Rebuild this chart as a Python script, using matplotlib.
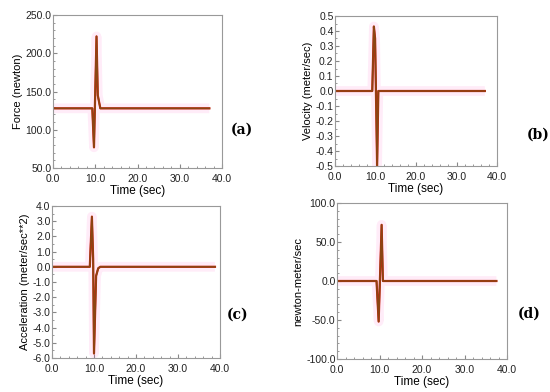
import matplotlib.pyplot as plt
import numpy as np
from matplotlib.ticker import MultipleLocator, FormatStrFormatter

plt.rcParams['font.family'] = ['Liberation Sans', 'DejaVu Sans']

# (a) force
t_a = [0.0, 9.3, 9.7, 10.0, 10.3, 10.6, 11.2, 37.0]
f_a = [128, 128, 77, 150, 222, 145, 128, 128]
# (b) velocity
t_b = [0.0, 9.2, 9.6, 9.9, 10.4, 10.7, 37.0]
v_b = [0.0, 0.0, 0.43, 0.35, -0.5, 0.0, 0.0]
# (c) acceleration
t_c = [0.0, 9.0, 9.5, 9.8, 10.0, 10.5, 11.0, 11.5, 38.8]
a_c = [0.0, 0.0, 3.3, 0.5, -5.7, -0.6, -0.1, 0.0, 0.0]
# (d) power
t_d = [0.0, 9.3, 9.8, 10.5, 10.8, 37.5]
p_d = [0.0, 0.0, -52, 72, 0.0, 0.0]

panels = [
    (t_a, f_a, "Force (newton)", (50, 250), 50, 10, "(a)"),
    (t_b, v_b, "Velocity (meter/sec)", (-0.5, 0.5), 0.1, 0.05, "(b)"),
    (t_c, a_c, "Acceleration (meter/sec**2)", (-6, 4), 1, 0.5, "(c)"),
    (t_d, p_d, "newton-meter/sec", (-100, 100), 50, 10, "(d)"),
]
# axes boxes in pixels: left, top, right, bottom
boxes = [(53, 15, 222, 168), (335, 16, 497, 166), (52, 206, 220, 358), (337, 203, 507, 359)]
lbl_pos = [(242, 130), (538, 135), (238, 315), (529, 314)]

W, H = 550, 392
fig = plt.figure(figsize=(W / 100, H / 100), dpi=100)
for (t, y, ylab, ylim, maj, mnr, tag), (l, tp, r, b), (lx, ly) in zip(panels, boxes, lbl_pos):
    ax = fig.add_axes([l / W, 1 - b / H, (r - l) / W, (b - tp) / H])
    ax.plot(t, y, color='#ff66cc', alpha=0.12, linewidth=7, solid_capstyle='butt')
    ax.plot(t, y, color='#d02010', linewidth=1.6)
    ax.plot(t, y, color='#8b4513', linewidth=1.2)
    ax.set_xlim(0, 40)
    ax.set_ylim(*ylim)
    ax.xaxis.set_major_locator(MultipleLocator(10))
    ax.xaxis.set_minor_locator(MultipleLocator(2))
    ax.yaxis.set_major_locator(MultipleLocator(maj))
    ax.yaxis.set_minor_locator(MultipleLocator(mnr))
    ax.xaxis.set_major_formatter(FormatStrFormatter("%.1f"))
    ax.yaxis.set_major_formatter(FormatStrFormatter("%.1f"))
    ax.tick_params(which='both', direction='in', colors='#888888', labelcolor='#222222',
                   labelsize=7.5, pad=1)
    ax.tick_params(axis='x', which='major', pad=4)
    ax.tick_params(which='major', length=3)
    ax.tick_params(which='minor', length=1.5)
    for s in ax.spines.values():
        s.set_color('#999999')
        s.set_linewidth(0.8)
    ax.set_xlabel("Time (sec)", fontsize=8.5, labelpad=1)
    ax.set_ylabel(ylab, fontsize=8, labelpad=2)
    fig.text(lx / W, 1 - ly / H, tag, fontsize=10, fontweight='bold', family='DejaVu Serif',
             ha='center', va='center')

fig.savefig("out.png", dpi=100)
